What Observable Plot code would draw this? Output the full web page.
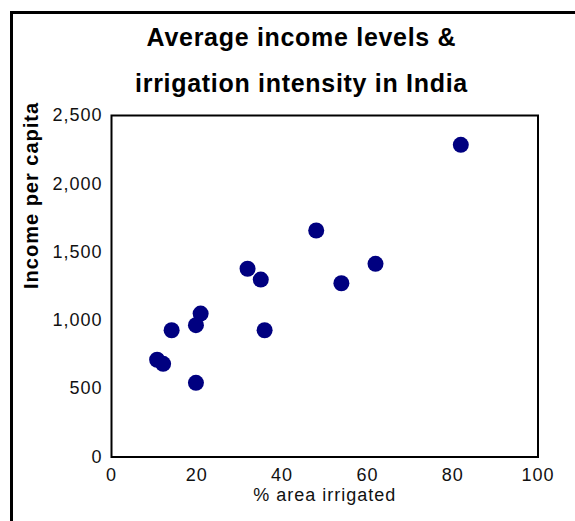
<!DOCTYPE html>
<html>
<head>
<meta charset="utf-8">
<script src="https://cdn.jsdelivr.net/npm/d3@7"></script>
<script src="https://cdn.jsdelivr.net/npm/@observablehq/plot@0.6"></script>
<style>
  html, body { margin: 0; padding: 0; background: #fff; }
  #wrap { position: relative; width: 575px; height: 521px; overflow: hidden; background: #fff; }
  #border { position: absolute; left: 10px; top: 11px; width: 700px; height: 700px;
            border-left: 3px solid #000; border-top: 3px solid #000; }
  #title { position: absolute; left: 0; top: 14px; width: 603px; text-align: center;
           font-family: "Liberation Sans", Arial, sans-serif; font-weight: bold;
           font-size: 25px; line-height: 46px; letter-spacing: 0.7px; color: #000; }
  #chart { position: absolute; left: 0; top: 0; }
</style>
</head>
<body>
<div id="wrap">
  <div id="border"></div>
  <div id="title">Average income levels &amp;<br>irrigation intensity in India</div>
  <div id="chart"></div>
</div>
<script>
// % area irrigated (x) and income per capita (y), one entry per state
const irrigated = [81.9, 48.0, 31.9, 35.0, 61.9, 53.9, 20.9, 19.8, 14.1, 35.9, 10.7, 12.1, 19.8];
const income    = [2285, 1658, 1378, 1299, 1414, 1272, 1050, 965, 928, 928, 712, 682, 543];
const xTicks = [0, 20, 40, 60, 80, 100];
const yTicks = [0, 500, 1000, 1500, 2000, 2500];
const xLabel = "% area irrigated";
const yLabel = "Income per capita";

const data = irrigated.map((x, i) => ({x, y: income[i]}));

const chart = Plot.plot({
  width: 575,
  height: 521,
  marginLeft: 111,
  marginRight: 37.5,
  marginTop: 115,
  marginBottom: 64.5,
  style: {
    fontFamily: "'Liberation Sans', Arial, sans-serif",
    fontSize: "18px",
    color: "#111",
    background: "transparent",
    overflow: "visible",
    letterSpacing: "1px"
  },
  x: {domain: [0, 100]},
  y: {domain: [0, 2500]},
  marks: [
    Plot.axisX({ticks: xTicks, tickSize: 0, tickPadding: 11, label: null, fontSize: 18}),
    Plot.axisY({ticks: yTicks, tickSize: 0, tickPadding: 9, label: null, fontSize: 18,
                tickFormat: d3.format(",")}),
    Plot.frame({stroke: "#000", strokeWidth: 2}),
    Plot.dot(data, {x: "x", y: "y", r: 8, fill: "#000080", stroke: "none"}),
    Plot.text([xLabel], {frameAnchor: "bottom", dy: 43.5, fontSize: 18, fill: "#111",
                         style: "letter-spacing:1.3px"}),
    Plot.text([yLabel], {frameAnchor: "left", rotate: -90, dx: -80.4, dy: 2.7,
                         fontSize: 20, fontWeight: "bold", fill: "#000",
                         style: "letter-spacing:0.5px"})
  ]
});
document.getElementById("chart").appendChild(chart);
</script>
</body>
</html>
